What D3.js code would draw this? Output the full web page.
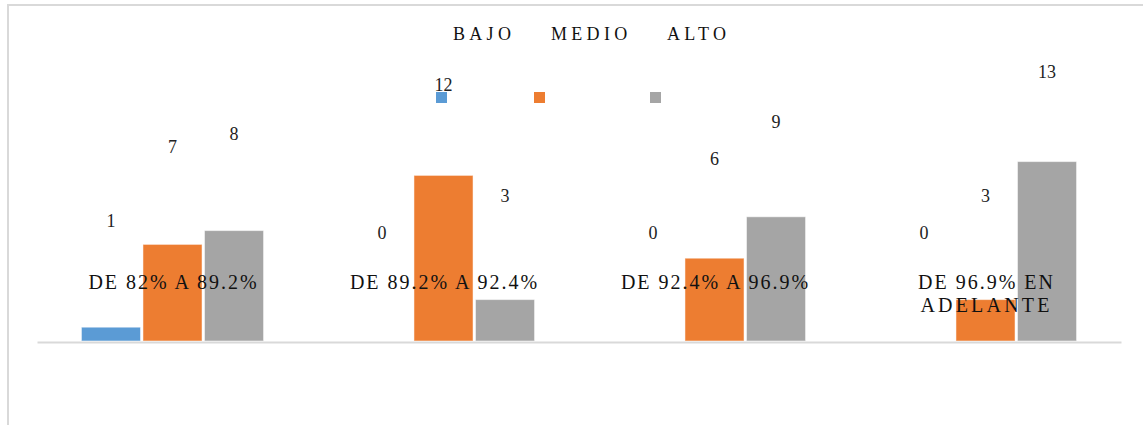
<!DOCTYPE html>
<html>
<head>
<meta charset="utf-8">
<script src="https://cdn.jsdelivr.net/npm/d3@7"></script>
<style>
  html, body { margin: 0; padding: 0; background: #fff; }
  svg { display: block; font-family: "Liberation Serif", "Times New Roman", serif; }
</style>
</head>
<body>
<svg id="chart" width="1143" height="425"></svg>
<script>
// Categories (percentage ranges) and the three series
const categories = ["DE 82% A 89.2%", "DE 89.2% A 92.4%", "DE 92.4% A 96.9%", "DE 96.9% EN ADELANTE"];
const categoryLines = [["DE 82% A 89.2%"], ["DE 89.2% A 92.4%"], ["DE 92.4% A 96.9%"], ["DE 96.9% EN", "ADELANTE"]];
const seriesNames = ["BAJO", "MEDIO", "ALTO"];
const bajo  = [1, 0, 0, 0];
const medio = [7, 12, 6, 3];
const alto  = [8, 3, 9, 13];
const colors = ["#5b9bd5", "#ed7d31", "#a5a5a5"];

const seriesValues = [bajo, medio, alto];
const rows = categories.map((c, i) => ({
  category: c,
  values: seriesNames.map((s, j) => ({ series: s, value: seriesValues[j][i], color: colors[j] }))
}));

const svg = d3.select("#chart");

// outer frame (only top and left edges fall inside the view)
svg.append("rect")
  .attr("x", 8).attr("y", 5)
  .attr("width", 1300).attr("height", 600)
  .attr("fill", "none").attr("stroke", "#d9d9d9").attr("stroke-width", 2);

const x0 = d3.scaleBand().domain(categories).range([37, 1121])
  .paddingInner(0.328).paddingOuter(0.164);
const x1 = d3.scaleBand().domain(seriesNames).range([0, x0.bandwidth()]).paddingInner(0.04);
const y = d3.scaleLinear().domain([0, 14]).range([341, 147.8]);
// data labels sit on their own, more compressed vertical scale
const yLabel = d3.scaleLinear().domain([0, 13]).range([233, 72]);

// bars
const groups = svg.append("g").selectAll("g").data(rows).join("g")
  .attr("transform", d => `translate(${x0(d.category)},0)`);

groups.selectAll("rect").data(d => d.values).join("rect")
  .attr("x", d => x1(d.series))
  .attr("y", d => y(d.value))
  .attr("width", x1.bandwidth())
  .attr("height", d => y(0) - y(d.value))
  .attr("fill", d => d.color)
  .attr("stroke", d => d.value > 0 ? "#ffffff" : "none")
  .attr("stroke-opacity", 0.5)
  .attr("stroke-width", 1);

// category axis baseline
const axis = svg.append("g").attr("transform", `translate(0,${y(0) + 1})`)
  .call(d3.axisBottom(x0).tickSize(0).tickFormat(""));
axis.select(".domain").attr("stroke", "#d9d9d9").attr("stroke-width", 2);

// value labels
groups.selectAll("text.val").data(d => d.values).join("text")
  .attr("class", "val")
  .attr("x", d => x1(d.series) + x1.bandwidth() / 2)
  .attr("y", d => yLabel(d.value))
  .attr("dy", "0.35em")
  .attr("text-anchor", "middle")
  .attr("font-size", 18)
  .attr("fill", "#222")
  .text(d => d.value);

// category labels drawn inside the plot over the bars
const catText = svg.append("g").selectAll("text").data(categories).join("text")
  .attr("x", d => x0(d) + x0.bandwidth() / 2 + 1)
  .attr("y", 282)
  .attr("text-anchor", "middle")
  .attr("font-size", 20)
  .attr("letter-spacing", 2)
  .attr("fill", "#111");
catText.selectAll("tspan").data((d, i) => categoryLines[i]).join("tspan")
  .attr("x", function () { return d3.select(this.parentNode).attr("x"); })
  .attr("dy", (d, i) => i === 0 ? "0.35em" : "1.15em")
  .attr("letter-spacing", (d, i) => i === 0 ? null : 3.2)
  .text(d => d);

// legend: names across the top, colour keys below
const legendX = [436, 534, 650];
const legend = svg.append("g").selectAll("g").data(seriesNames).join("g")
  .attr("transform", (d, i) => `translate(${legendX[i]},0)`);
legend.append("rect")
  .attr("x", 0).attr("y", 92).attr("width", 11).attr("height", 11)
  .attr("fill", (d, i) => colors[i]);
legend.append("text")
  .attr("x", 17).attr("y", 34).attr("dy", "0.35em")
  .attr("font-size", 18).attr("letter-spacing", 4.3)
  .attr("fill", "#111")
  .text(d => d);
</script>
</body>
</html>
